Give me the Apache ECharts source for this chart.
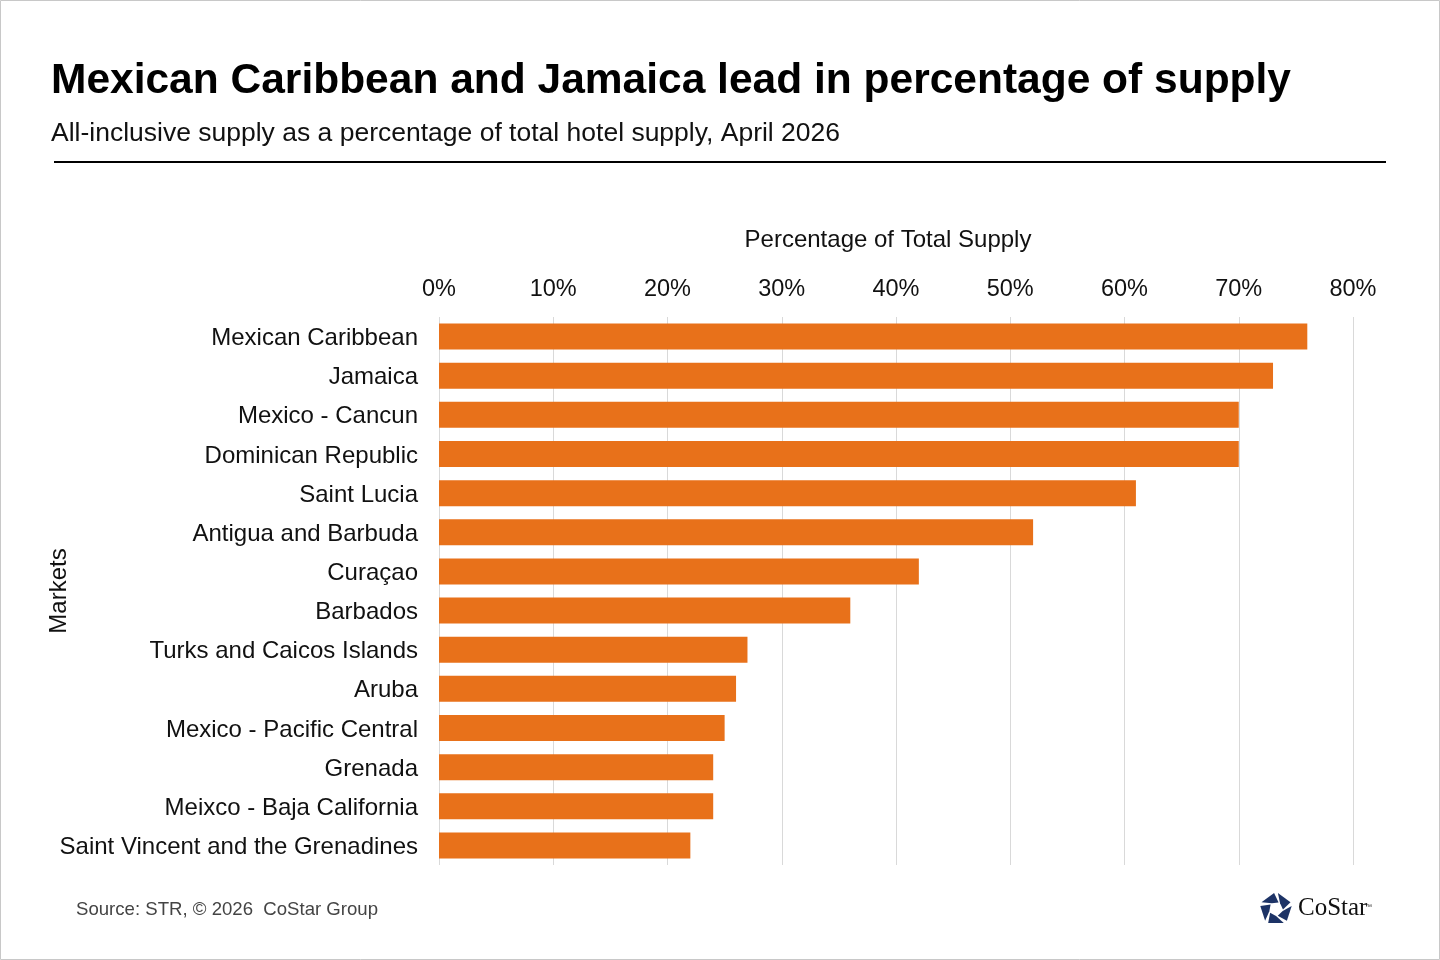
<!DOCTYPE html>
<html><head><meta charset="utf-8">
<script src="https://cdn.jsdelivr.net/npm/echarts@6/dist/echarts.min.js"></script>
<style>html,body{margin:0;padding:0;background:#fff}#c{width:1440px;height:960px}</style>
</head><body><div id="c"></div>
<script>
const categories = ["Mexican Caribbean","Jamaica","Mexico - Cancun","Dominican Republic","Saint Lucia","Antigua and Barbuda","Curaçao","Barbados","Turks and Caicos Islands","Aruba","Mexico - Pacific Central","Grenada","Meixco - Baja California","Saint Vincent and the Grenadines"];
const values = [76,73,70,70,61,52,42,36,27,26,25,24,24,22];
const titleText = "Mexican Caribbean and Jamaica lead in percentage of supply";
const subtitleText = "All-inclusive supply as a percentage of total hotel supply, April 2026";
const sourceText = "Source: STR, © 2026  CoStar Group";
const font = "Liberation Sans, Arial, sans-serif";

const chart = echarts.init(document.getElementById('c'), null, {renderer:'canvas'});
const cx = 1276, cy = 909, R = 16, r = 7;
const pieces = [];
for (let i = 0; i < 5; i++) {
  const a0 = -Math.PI/2 + i*2*Math.PI/5 + 0.12;
  const a1 = a0 + 2*Math.PI/5 - 0.24;
  pieces.push({type:'polygon', shape:{points:[
    [cx+R*Math.cos(a0), cy+R*Math.sin(a0)],
    [cx+R*Math.cos(a1), cy+R*Math.sin(a1)],
    [cx+r*Math.cos(a1+0.5), cy+r*Math.sin(a1+0.5)],
    [cx+r*Math.cos(a0+0.5), cy+r*Math.sin(a0+0.5)]
  ]}, style:{fill:'#1d3366'}});
}
chart.setOption({
  animation:false,
  backgroundColor:'#fff',
  title:[
    {text:titleText,left:46,top:55,textStyle:{fontFamily:font,fontSize:42.5,fontWeight:'bold',color:'#000'}},
    {text:subtitleText,left:46,top:115,textStyle:{fontFamily:font,fontSize:26.5,fontWeight:'normal',color:'#111'}}
  ],
  graphic:[
    {type:'rect',shape:{x:0.5,y:0.5,width:1439,height:959},style:{fill:null,stroke:'#c8c8c8',lineWidth:1}},
    {type:'line',shape:{x1:54,y1:162,x2:1386,y2:162},style:{stroke:'#000',lineWidth:2}},
    {type:'text',left:76,top:900,style:{text:sourceText,fontFamily:font,fontSize:18.6,fill:'#444'}},
    {type:'text',left:1298,top:896,style:{text:'CoStar',fontFamily:'Liberation Serif, serif',fontSize:25,fill:'#111'}},
    {type:'text',left:1365,top:904,style:{text:'™',fontFamily:font,fontSize:7,fill:'#333'}},
    ...pieces
  ],
  grid:{left:439,right:87,top:317,bottom:95,containLabel:false},
  xAxis:{type:'value',position:'top',min:0,max:80,interval:10,
    name:'Percentage of Total Supply',nameLocation:'middle',nameGap:65,nameMoveOverlap:false,
    nameTextStyle:{fontFamily:font,fontSize:24,color:'#111',padding:[0,16,0,0]},
    axisLabel:{formatter:'{value}%',fontFamily:font,fontSize:23.5,color:'#111',margin:15},
    axisLine:{show:false},axisTick:{show:false},
    splitLine:{lineStyle:{color:'#d9d9d9',width:1}}},
  yAxis:{type:'category',data:categories,inverse:true,
    name:'Markets',nameLocation:'middle',nameGap:368,nameRotate:90,nameMoveOverlap:false,
    nameTextStyle:{fontFamily:font,fontSize:24,color:'#111'},
    axisLabel:{formatter:'{a|{value}}',margin:21,
      rich:{a:{fontFamily:font,fontSize:24,color:'#111',padding:[4,0,0,0]}}},
    axisLine:{show:false},axisTick:{show:false},splitLine:{show:false}},
  series:[{type:'bar',data:values,barWidth:26,itemStyle:{color:'#E8711A'}}]
});
</script></body></html>
